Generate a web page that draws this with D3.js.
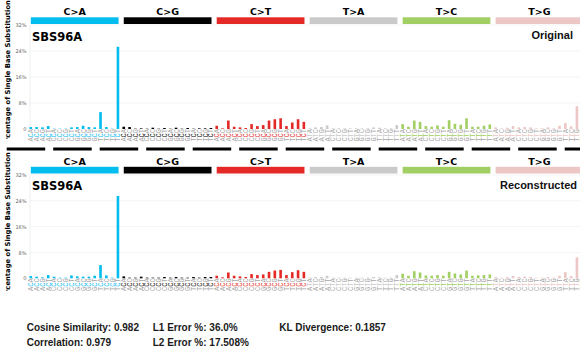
<!DOCTYPE html>
<html>
<head>
<meta charset="utf-8">
<script src="https://cdn.jsdelivr.net/npm/d3@7"></script>
<style>
  body { margin: 0; background: #fff; }
  svg { display: block; }
</style>
</head>
<body>
<svg width="580" height="353"></svg>
<script>
// mutation classes and their colours
const mutTypes = ["C>A", "C>G", "C>T", "T>A", "T>C", "T>G"];
const mutColors = ["#03BDEF", "#010101", "#E42926", "#CBCACA", "#A2CF63", "#ECC7C5"];
const bases = ["A", "C", "G", "T"];
const yTicks = [0, 8, 16, 24, 32];
const sampleName = "SBS96A";

// percentages, 16 per mutation class (ACA, ACC ... TCT)
const original = [
  0.6, 0.6, 0.5, 0.9, 0.1, 0.1, 0.1, 0.5, 0.6, 1.0, 0.6, 0.5, 5.2, 0.6, 0.1, 25.3,
  0.7, 0.6, 0.1, 0.2, 0.1, 0.4, 0.1, 0.3, 0.1, 0.4, 0.1, 0.3, 0.1, 0.2, 0.2, 0.3,
  1.0, 0.2, 2.6, 0.7, 0.5, 0.3, 1.5, 0.9, 1.2, 2.6, 3.0, 3.3, 0.9, 2.0, 3.0, 2.2,
  0.2, 0.5, 0.6, 1.1, 0.2, 0.2, 0.2, 0.2, 0.2, 0.2, 0.2, 0.5, 0.4, 0.2, 0.2, 1.2,
  1.5, 0.7, 2.6, 2.2, 0.9, 0.7, 1.1, 0.7, 2.7, 1.6, 1.3, 3.3, 0.7, 0.7, 1.0, 1.4,
  0.5, 0.2, 0.4, 0.9, 0.5, 0.6, 0.5, 0.2, 0.2, 0.5, 0.2, 1.0, 1.8, 0.8, 7.0, 0.5
];
const reconstructed = [
  0.7, 0.5, 0.3, 1.0, 0.5, 0.2, 0.2, 0.9, 0.6, 0.5, 0.5, 0.8, 4.1, 0.9, 0.2, 25.5,
  0.6, 0.2, 0.2, 0.5, 0.2, 0.2, 0.2, 0.4, 0.2, 0.4, 0.2, 0.2, 0.4, 0.2, 0.4, 0.4,
  0.8, 0.3, 1.8, 0.8, 0.6, 0.4, 1.3, 1.0, 1.2, 2.0, 2.4, 2.6, 1.0, 1.9, 2.5, 2.0,
  0.2, 0.4, 0.4, 0.8, 0.2, 0.2, 0.2, 0.2, 0.2, 0.2, 0.2, 0.4, 0.3, 0.2, 0.2, 1.0,
  1.4, 0.8, 2.2, 1.8, 0.9, 0.8, 1.0, 0.8, 2.0, 1.5, 1.2, 2.4, 0.8, 0.9, 1.0, 1.2,
  0.4, 0.2, 0.4, 0.7, 0.4, 0.5, 0.4, 0.2, 0.2, 0.4, 0.2, 0.8, 1.9, 0.7, 6.5, 0.4
];

const statsCol1 = ["Cosine Similarity: 0.982", "Correlation: 0.979"];
const statsCol2 = ["L1 Error %: 36.0%", "L2 Error %: 17.508%"];
const statsCol3 = ["KL Divergence: 0.1857"];

// trinucleotide contexts in plotting order
const contexts = [];
mutTypes.forEach((m, k) => {
  bases.forEach(b5 => bases.forEach(b3 => contexts.push({ k, b5, ref: m[0], b3 })));
});

const svg = d3.select("svg");

const x0 = 30.8, step = 5.81;
const x = d3.scaleBand()
  .domain(d3.range(96))
  .range([x0 - step / 2, x0 - step / 2 + 96 * step])
  .paddingInner(0.55)
  .paddingOuter(0.275);
const cx = i => x(i) + x.bandwidth() / 2;

const panels = [
  { name: "Original", data: original, top: 25, base: 129, head: 17.3, headText: 15,
    title: 40.5, nameX: 573, clipTop: -10, clipBottom: 139, ylab: 73.3 },
  { name: "Reconstructed", data: reconstructed, top: 175, base: 278.3, head: 166.8, headText: 165,
    title: 190.3, nameX: 577, clipTop: 152, clipBottom: 291, ylab: 225.3 }
];

panels.forEach((p, pi) => {
  const g = svg.append("g");
  const y = d3.scaleLinear().domain([0, 32]).range([p.base, p.top]);

  // grid
  g.selectAll(".grid")
    .data(yTicks.slice(1))
    .enter().append("line")
    .attr("x1", 29.5).attr("x2", 580)
    .attr("y1", d => y(d)).attr("y2", d => y(d))
    .attr("stroke", "#ececec").attr("stroke-width", 0.6);

  // y axis
  const ax = g.append("g")
    .attr("transform", "translate(29.5,0)")
    .call(d3.axisLeft(y).tickValues(yTicks).tickSize(0).tickPadding(3)
      .tickFormat(d => d === 0 ? "0" : d + "%"));
  ax.select(".domain").attr("stroke", "#e4e4e4").attr("stroke-width", 0.6);
  ax.selectAll("text")
    .attr("font-family", "DejaVu Sans")
    .attr("font-size", 5)
    .attr("fill", "#666");

  // bars
  g.selectAll(".bar")
    .data(p.data)
    .enter().append("rect")
    .attr("x", (d, i) => x(i))
    .attr("width", x.bandwidth())
    .attr("y", d => y(d))
    .attr("height", d => p.base - y(d))
    .attr("fill", (d, i) => mutColors[Math.floor(i / 16)]);

  // class headers
  mutTypes.forEach((m, k) => {
    const a = cx(16 * k), b = cx(16 * k + 15) + 0.6;
    g.append("rect")
      .attr("x", a).attr("y", p.head)
      .attr("width", b - a).attr("height", 6.7)
      .attr("fill", mutColors[k]);
    g.append("text")
      .attr("x", (a + b) / 2).attr("y", p.headText)
      .attr("text-anchor", "middle")
      .attr("font-family", "DejaVu Sans").attr("font-weight", "bold")
      .attr("font-size", 9.5)
      .text(m);
  });

  // context labels
  const lab = g.selectAll(".ctx")
    .data(contexts)
    .enter().append("text")
    .attr("transform", (d, i) => `translate(${cx(i)},${p.base + 12.6}) rotate(-90)`)
    .attr("dy", "0.35em")
    .attr("font-family", "Liberation Mono")
    .attr("font-size", 7);
  lab.append("tspan").attr("fill", "#a6a6a6").text(d => d.b5);
  lab.append("tspan").attr("fill", d => mutColors[d.k]).text(d => d.ref);
  lab.append("tspan").attr("fill", "#a6a6a6").text(d => d.b3);

  // sample name + panel name
  g.append("text")
    .attr("x", 32).attr("y", p.title)
    .attr("font-family", "DejaVu Sans").attr("font-weight", "bold")
    .attr("font-size", 11.5)
    .text(sampleName);
  g.append("text")
    .attr("x", p.nameX).attr("y", p.title - 1.5)
    .attr("text-anchor", "end")
    .attr("font-family", "Liberation Sans, Arial").attr("font-weight", "bold")
    .attr("font-size", 11)
    .attr("fill", "#111")
    .text(p.name);

  // y label, clipped to the panel
  svg.append("clipPath").attr("id", "clip" + pi)
    .append("rect")
    .attr("x", 0).attr("y", p.clipTop)
    .attr("width", 30).attr("height", p.clipBottom - p.clipTop);
  g.append("g")
    .attr("clip-path", `url(#clip${pi})`)
    .append("text")
    .attr("transform", `translate(10,${p.ylab}) rotate(-90)`)
    .attr("text-anchor", "middle")
    .attr("font-family", "DejaVu Sans").attr("font-weight", "bold")
    .attr("font-size", 6.8)
    .text("Percentage of Single Base Substitutions");
});

// dashed separator
svg.append("line")
  .attr("x1", 6.7).attr("x2", 580)
  .attr("y1", 149).attr("y2", 149)
  .attr("stroke", "#000").attr("stroke-width", 3)
  .attr("stroke-dasharray", "38.5,8");

// statistics
[[statsCol1, 26.7], [statsCol2, 152.7], [statsCol3, 279.3]].forEach(([col, sx]) => {
  svg.selectAll(null)
    .data(col)
    .enter().append("text")
    .attr("x", sx)
    .attr("y", (d, i) => 330.5 + i * 15.3)
    .attr("font-family", "Liberation Sans, Arial").attr("font-weight", "bold")
    .attr("font-size", 10)
    .attr("fill", "#1a1a1a")
    .text(d => d);
});
</script>
</body>
</html>
